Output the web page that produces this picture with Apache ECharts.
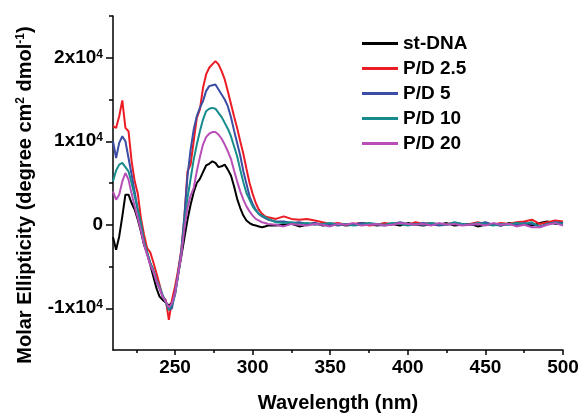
<!DOCTYPE html>
<html>
<head>
<meta charset="utf-8">
<script src="https://cdn.jsdelivr.net/npm/echarts@6/dist/echarts.min.js"></script>
<style>
html,body{margin:0;padding:0;background:#fff;}
#chart{width:581px;height:415px;}
</style>
</head>
<body>
<div id="chart"></div>
<script>
var wavelength = [210,212,214,216,218,220,222,224,226,228,230,232,234,236,238,240,242,244,246,248,250,252,254,256,258,260,262,264,266,268,270,272,274,276,278,280,282,284,286,288,290,292,294,296,298,300,302,304,306,308,310,315,320,325,330,335,340,345,350,355,360,365,370,375,380,385,390,395,400,405,410,415,420,425,430,435,440,445,450,455,460,465,470,475,480,485,490,495,500];

var stDNA = [-1500,-3000,-1400,1000,3600,3600,2600,1800,600,-800,
  -2400,-3400,-4800,-6200,-7600,-8600,-9000,-9300,-9700,-9300,
  -8200,-5900,-3800,-1600,600,2400,3900,5000,5500,6300,
  7100,7300,7600,7400,6900,7000,7200,6600,5900,4600,
  3100,2000,1100,500,200,0,-100,-200,-300,-200,
  -100,
  -100,0,100,-200,0,200,-100,0,100,-100,0,200,100,-100,0,100,-100,200,0,-100,100,0,200,-100,0,100,-200,0,100,-100,200,0,100,-100,200,400,100,300];

var pd25 = [11800,11600,13000,14900,11600,11200,7600,5200,3700,800,
  -1200,-2800,-3300,-4500,-5800,-7200,-8600,-9000,-11400,-9000,
  -7400,-5400,-3000,800,6400,7200,10000,12800,13800,16400,
  18000,18800,19200,19600,19200,18400,17400,16000,14500,13000,
  11600,10000,8500,6700,5000,3700,2600,1800,1300,1000,
  900,
  700,1000,700,600,700,500,300,100,200,0,100,200,-100,0,200,100,200,0,300,100,200,0,100,200,0,100,300,100,0,200,100,300,400,600,100,300,500,400];

var pd5 = [10000,8000,9800,10600,10000,8000,6000,3900,1700,-100,
  -2100,-3400,-4600,-5600,-6800,-7600,-8600,-9300,-10200,-10000,
  -8000,-5800,-3200,1000,5800,9000,11400,13000,14000,14800,
  16000,16600,16700,16800,16200,15600,15000,14200,12900,11300,
  9800,8300,6400,4900,3400,2500,1800,1300,1000,800,
  600,
  400,400,200,300,100,200,0,100,-100,100,0,200,100,0,-100,100,300,100,0,200,100,-100,0,200,100,0,100,300,0,-100,100,0,200,100,-200,100,300,200];

var pd10 = [5200,6500,7200,7400,6900,6400,5000,3400,1800,200,
  -2000,-3300,-4500,-5400,-6600,-7400,-8400,-9200,-10200,-9600,
  -8400,-6000,-3400,200,3200,5500,7800,9600,11200,12600,
  13600,13900,14000,13900,13400,12900,12200,11500,10600,9400,
  8200,6600,5100,3800,3000,2200,1700,1300,1100,900,
  700,
  300,200,300,100,200,0,100,200,0,100,-100,0,200,100,0,200,100,-100,100,0,200,100,0,300,100,0,200,100,-100,100,0,200,100,300,-300,100,200,100];

var pd20 = [4000,3000,3600,5200,6200,5400,3700,2200,800,-700,
  -2400,-3600,-4800,-5600,-6800,-7600,-8600,-9200,-9900,-9400,
  -8200,-6000,-3600,-500,2000,3500,4400,6400,8100,9600,
  10500,10900,11100,11100,10800,10300,9600,8800,7900,6500,
  5200,4000,3000,2200,1600,1100,700,500,300,200,
  100,
  0,-200,100,0,-100,100,0,-200,100,0,200,-100,0,100,-100,0,200,100,0,100,-100,200,0,100,-100,0,100,-100,200,0,100,-200,0,-300,-300,0,200,-100];

var seriesNames = ['st-DNA','P/D 2.5','P/D 5','P/D 10','P/D 20'];
var seriesValues = [stDNA, pd25, pd5, pd10, pd20];
var seriesColors = ['#000000','#ec1c24','#3b4ea3','#178b8b','#b84fb8'];

var xMajorTicks = [250,300,350,400,450,500];
var xMinorTicks = [225,275,325,375,425,475];
var yMajorTicks = [-10000,0,10000,20000];
var yMinorTicks = [-5000,5000,15000,25000];

var FONT = '"Liberation Sans", Arial, Helvetica, sans-serif';

function pairs(vals){
  var out = [];
  for (var i = 0; i < wavelength.length; i++) out.push([wavelength[i], vals[i]]);
  return out;
}

var chart = echarts.init(document.getElementById('chart'), null, {renderer:'canvas'});

var axisLineStyle = {color:'#000', width:1.5};

var option = {
  animation: false,
  backgroundColor: '#fff',
  grid: {left:113, right:18, top:16, bottom:65, containLabel:false, outerBoundsMode:'none'},
  legend: {
    orient: 'vertical',
    left: 357,
    top: 29,
    itemWidth: 36,
    itemHeight: 3,
    itemGap: 6,
    icon: 'rect',
    textStyle: {fontFamily: FONT, fontSize: 19, fontWeight: 'bold', color: '#000'},
    data: seriesNames
  },
  xAxis: [
    {
      type: 'value', min: 210, max: 500,
      position: 'bottom',
      axisLine: {show:true, onZero:false, lineStyle: axisLineStyle},
      axisTick: {show:true, length:5, customValues: xMajorTicks, lineStyle:{color:'#000', width:1.5}},
      axisLabel: {show:true, customValues: xMajorTicks, margin: 8, fontFamily: FONT, fontSize: 19, fontWeight:'bold', color:'#000'},
      splitLine: {show:false},
      name: 'Wavelength (nm)',
      nameLocation: 'middle',
      nameGap: 43,
      nameTextStyle: {fontFamily: FONT, fontSize: 20, fontWeight:'bold', color:'#000'}
    },
    {
      type: 'value', min: 210, max: 500,
      position: 'bottom',
      axisLine: {show:false, onZero:false},
      axisTick: {show:true, length:3, customValues: xMinorTicks, lineStyle:{color:'#000', width:1.5}},
      axisLabel: {show:false},
      splitLine: {show:false}
    }
  ],
  yAxis: [
    {
      type: 'value', min: -15000, max: 25000,
      position: 'left',
      axisLine: {show:true, onZero:false, lineStyle: axisLineStyle},
      axisTick: {show:true, length:7, customValues: yMajorTicks, lineStyle:{color:'#000', width:1.5}},
      axisLabel: {
        show:true, customValues: yMajorTicks, margin: 10,
        formatter: function(v){
          if (v === 0) return '{n|0}';
          return '{n|' + (v/10000) + 'x10}{s|4}';
        },
        rich: {
          n: {fontFamily: FONT, fontSize: 19, fontWeight:'bold', color:'#000'},
          s: {fontFamily: FONT, fontSize: 12, fontWeight:'bold', color:'#000', verticalAlign:'top'}
        }
      },
      splitLine: {show:false}
    },
    {
      type: 'value', min: -15000, max: 25000,
      position: 'left',
      axisLine: {show:false, onZero:false},
      axisTick: {show:true, length:4, customValues: yMinorTicks, lineStyle:{color:'#000', width:1.5}},
      axisLabel: {show:false},
      splitLine: {show:false}
    }
  ],
  graphic: [
    {
      type: 'text',
      x: 25, y: 195,
      rotation: Math.PI/2,
      style: {
        text: '{t|Molar Ellipticity (degree cm}{s|2}{t| dmol}{s|-1}{t|)}',
        rich: {
          t: {fontFamily: FONT, fontSize: 20, fontWeight:'bold', fill:'#000', color:'#000'},
          s: {fontFamily: FONT, fontSize: 12, fontWeight:'bold', fill:'#000', color:'#000', verticalAlign:'top'}
        },
        align: 'center',
        verticalAlign: 'middle'
      }
    }
  ],
  series: seriesNames.map(function(name, i){
    return {
      name: name,
      type: 'line',
      xAxisIndex: 0,
      yAxisIndex: 0,
      data: pairs(seriesValues[i]),
      symbol: 'none',
      smooth: false,
      color: seriesColors[i],
      lineStyle: {color: seriesColors[i], width: 2}
    };
  })
};

chart.setOption(option);
</script>
</body>
</html>
